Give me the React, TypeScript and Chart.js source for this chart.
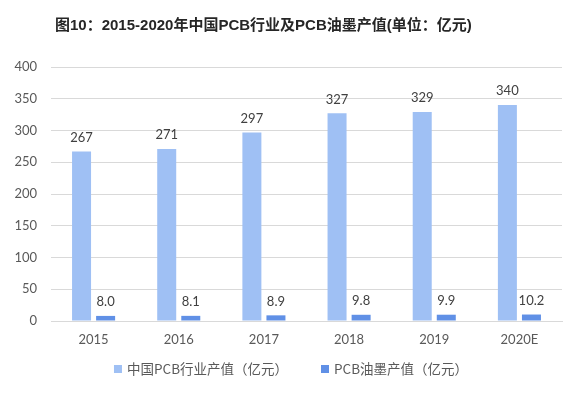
import React, { useEffect, useRef } from "react";
import { Chart, registerables } from "chart.js";

Chart.register(...registerables);

const titleText = "图10：2015-2020年中国PCB行业及PCB油墨产值(单位：亿元)";
const categories = ["2015", "2016", "2017", "2018", "2019", "2020E"];
const pcbOutput = [267, 271, 297, 327, 329, 340];
const inkOutput = [8.0, 8.1, 8.9, 9.8, 9.9, 10.2];
const seriesNames = ["中国PCB行业产值（亿元）", "PCB油墨产值（亿元）"];
const seriesDecimals = [0, 1];
const yMin = 0;
const yMax = 400;
const yStep = 50;

const LIGHT = "#9FC0F4";
const DARK = "#6090E6";
const FONT = '"Lato", "Noto Sans CJK SC", sans-serif';
const CJK_FONT = '"Noto Sans CJK SC", sans-serif';

const titlePlugin = {
  id: "customTitle",
  afterDraw(chart: any) {
    const ctx = chart.ctx;
    ctx.save();
    ctx.font = 'bold 15px "Liberation Sans", "Noto Sans CJK SC", sans-serif';
    ctx.fillStyle = "#262626";
    ctx.textAlign = "left";
    ctx.textBaseline = "middle";
    ctx.fillText(titleText, 55, 26);
    ctx.restore();
  },
};

const valueLabelPlugin = {
  id: "valueLabels",
  afterDatasetsDraw(chart: any) {
    const ctx = chart.ctx;
    ctx.save();
    ctx.font = "13px " + FONT;
    ctx.fillStyle = "#404040";
    ctx.textAlign = "center";
    ctx.textBaseline = "middle";
    chart.data.datasets.forEach((ds: any, i: number) => {
      const meta = chart.getDatasetMeta(i);
      meta.data.forEach((el: any, j: number) => {
        const v = ds.data[j] as number;
        ctx.fillText(v.toFixed(seriesDecimals[i]), el.x, el.y - 14);
      });
    });
    ctx.restore();
  },
};

const legendPlugin = {
  id: "customLegend",
  afterDraw(chart: any) {
    const ctx = chart.ctx;
    ctx.save();
    ctx.font = "13.5px " + CJK_FONT;
    ctx.textBaseline = "middle";
    ctx.textAlign = "left";
    const box = 8;
    const gapBoxText = 5;
    const gapItems = 33;
    const ds = chart.data.datasets;
    const widths = ds.map((d: any) => box + gapBoxText + ctx.measureText(d.label).width);
    const total = widths.reduce((a: number, b: number) => a + b, 0) + gapItems * (ds.length - 1);
    let x = 291 - total / 2;
    const y = 369;
    ds.forEach((d: any, i: number) => {
      ctx.fillStyle = d.backgroundColor;
      ctx.fillRect(x, y - box / 2, box, box);
      ctx.fillStyle = "#595959";
      ctx.fillText(d.label, x + box + gapBoxText, y);
      x += widths[i] + gapItems;
    });
    ctx.restore();
  },
};

export default function App() {
  const canvasRef = useRef<HTMLCanvasElement | null>(null);

  useEffect(() => {
    if (!canvasRef.current) return;
    const chart = new Chart(canvasRef.current, {
      type: "bar",
      data: {
        labels: categories,
        datasets: [
          {
            label: seriesNames[0],
            data: pcbOutput,
            backgroundColor: LIGHT,
            barPercentage: 0.79,
            categoryPercentage: 0.565,
          },
          {
            label: seriesNames[1],
            data: inkOutput,
            backgroundColor: DARK,
            barPercentage: 0.79,
            categoryPercentage: 0.565,
          },
        ],
      },
      options: {
        animation: false,
        responsive: false,
        maintainAspectRatio: false,
        layout: { padding: { left: 0, right: 10, top: 67, bottom: 44 } },
        plugins: {
          legend: { display: false },
          title: { display: false },
          tooltip: { enabled: false },
        },
        scales: {
          x: {
            grid: { display: false, drawTicks: false },
            border: { display: true, color: "#D9D9D9", width: 1 },
            ticks: {
              color: "#595959",
              font: { size: 13, family: FONT },
              padding: 11,
            },
            afterFit(scale: any) {
              scale.height = 30;
            },
          },
          y: {
            min: yMin,
            max: yMax,
            grid: { color: "#D9D9D9", drawTicks: false },
            border: { display: false },
            ticks: {
              stepSize: yStep,
              color: "#595959",
              font: { size: 13, family: FONT },
              padding: 14,
            },
            afterFit(scale: any) {
              scale.width = 51;
            },
          },
        },
      },
      plugins: [titlePlugin, valueLabelPlugin, legendPlugin],
    });
    return () => chart.destroy();
  }, []);

  return (
    <div style={{ position: "fixed", left: 0, top: 0, width: 572, height: 395, background: "#fff" }}>
      <canvas ref={canvasRef} width={572} height={395} style={{ display: "block" }} />
    </div>
  );
}
